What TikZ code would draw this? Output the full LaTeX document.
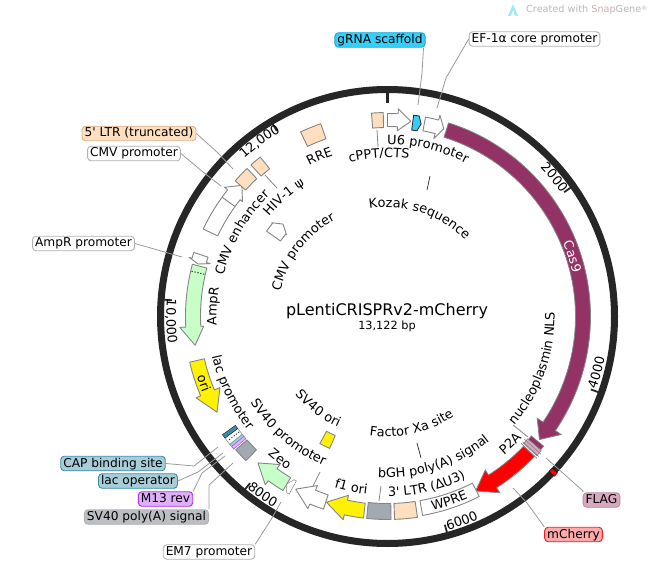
\documentclass[tikz,border=0pt]{standalone}
\usepackage{fontspec}
\setmainfont{DejaVu Sans}[Ligatures=TeXOff]
\usetikzlibrary{decorations.text}
\definecolor{ringc}{HTML}{262626}
\definecolor{stroke}{HTML}{858585}
\definecolor{conn}{HTML}{9A9A9A}
\definecolor{cascol}{HTML}{933365}
\definecolor{peach}{HTML}{FFDFBF}
\definecolor{peachd}{HTML}{D9B08C}
\definecolor{lgreen}{HTML}{C8FFC8}
\definecolor{greyf}{HTML}{A3A9B1}
\definecolor{cyanf}{HTML}{35CFF7}
\definecolor{cyand}{HTML}{18A8D8}
\definecolor{capf}{HTML}{A8CDD9}
\definecolor{capd}{HTML}{3A8CA8}
\definecolor{m13f}{HTML}{DDB0F8}
\definecolor{m13d}{HTML}{B030F0}
\definecolor{flagf}{HTML}{D8A8C0}
\definecolor{flagd}{HTML}{B88CA4}
\definecolor{cherf}{HTML}{FFAAAA}
\definecolor{cherd}{HTML}{F02020}
\definecolor{polyf}{HTML}{BBBFC4}
\newcommand{\pp}[2]{({387.5+(#2)*sin(#1)},{257.5+(#2)*cos(#1)})}
% t1 t2 ri ro style
\newcommand{\featsector}[5]{\draw[#5] \pp{#1}{#4} arc[start angle={90-(#1)},end angle={90-(#2)},radius=#4] -- \pp{#2}{#3} arc[start angle={90-(#2)},end angle={90-(#1)},radius=#3] -- cycle;}
% tail headbase tip ri ro wi wo style
\newcommand{\featarrow}[8]{\draw[#8] \pp{#1}{#5} arc[start angle={90-(#1)},end angle={90-(#2)},radius=#5] -- \pp{#2}{#7} -- \pp{#3}{(#4+#5)/2} -- \pp{#2}{#6} -- \pp{#2}{#4} arc[start angle={90-(#2)},end angle={90-(#1)},radius=#4] -- cycle;}
\newcommand{\lab}{\fontsize{12.2}{14}\selectfont}
\newcommand{\clab}{\fontsize{12.9}{14}\selectfont}
% [colour] text theta baseline-radius
\newcommand{\cwtext}[4][black]{\path[decorate,decoration={text along path,text color=#1,text={|\clab|#2},text align=center}] \pp{#3-70}{#4} arc[start angle={90-(#3)+70},end angle={90-(#3)-70},radius=#4];}
\newcommand{\ccwtext}[4][black]{\path[decorate,decoration={text along path,text color=#1,text={|\clab|#2},text align=center}] \pp{#3+70}{#4} arc[start angle={90-(#3)-70},end angle={90-(#3)+70},radius=#4];}
\tikzset{
  feat/.style={draw=stroke,line width=0.9pt,fill=white,line join=round},
  thinfeat/.style={draw=stroke,line width=0.5pt,fill=white},
  tag/.style={rounded corners=3.5pt,draw=#1,line width=0.9pt,inner sep=0pt,minimum height=14.5pt,text height=9.5pt,text depth=2.5pt,font=\lab,inner xsep=2.5pt},
  lead/.style={draw=conn,line width=0.8pt},
  dark/.style={draw=ringc,line width=0.7pt},
  ticks/.style={draw=ringc,line width=1.8pt}
}
\begin{document}
\begin{tikzpicture}[x=1pt,y=1pt]
\useasboundingbox (0,0) rectangle (653,574);
\fill[white] (0,0) rectangle (653,574);
% ring
\node[circle,draw=ringc,line width=7pt,minimum size=454pt,inner sep=0pt] (ring) at (387.5,257.5) {};
\featsector{132.6}{133.8}{224}{231}{fill=red}
% ticks
\draw[ticks,line width=3pt] \pp{0}{228} -- \pp{0}{213};
\foreach \t in {54.87,109.74,164.6,219.5,274.3,329.2}{\draw[ticks] \pp{\t}{226} -- \pp{\t}{216};}
% features
\featsector{355.5}{358.8}{189}{204}{feat,fill=peach}
\featarrow{0}{3}{6.8}{190}{203}{186}{208}{feat}
\featarrow{7.4}{9}{9.9}{188}{203}{188}{203}{draw=ringc,line width=0.8pt,fill=cyanf}
\featarrow{10.8}{14.6}{16.7}{189}{203}{184}{208}{feat}
\featarrow{17.5}{124.2}{129}{188}{203}{181}{210}{draw=stroke,line width=0.8pt,fill=cascol}
\featsector{129.7}{131.1}{187}{203}{draw=stroke,line width=0.6pt,fill=cascol}
\featsector{131.1}{133}{186}{204}{draw=stroke,line width=0.6pt,fill=flagf}
\foreach \t in {131.9,132.8,133.5}{\draw[draw=stroke,line width=0.6pt] \pp{\t}{184} -- \pp{\t}{206};}
\featarrow{133.6}{147.5}{153.2}{188}{203}{182}{209}{draw=stroke,line width=0.8pt,fill=red}
\featsector{153}{170}{187}{202}{feat}
\featsector{171.5}{178}{187}{203}{feat,fill=peach}
\featsector{179}{185.9}{187}{203}{feat,fill=greyf}
\featarrow{186.8}{192.3}{198.2}{188}{203}{183}{208}{feat,fill=yellow}
\featarrow{198.4}{202.5}{208}{188}{203}{183}{208}{feat}
\featarrow{209}{209.8}{211}{188}{203}{188}{203}{thinfeat}
\featarrow{211}{216}{221.5}{188}{203}{183}{208}{feat,fill=lgreen}
\featsector{224.5}{228.7}{187}{202}{feat,fill=greyf}
% lac cluster
\featsector{229.2}{230.2}{187}{203}{draw=m13d,line width=0.4pt,fill=m13f}
\featsector{230.2}{231}{187}{203}{draw=capd,line width=0.4pt,fill=capf}
\featsector{231}{233.2}{187}{203}{draw=stroke,line width=0.5pt,fill=white}
\draw[black,line width=0.9pt,dotted] \pp{232.1}{188} -- \pp{232.1}{202};
\featsector{233.2}{234.4}{187}{203}{draw=ringc,line width=0.4pt,fill=capd}
\featarrow{257}{247}{240.7}{188}{203}{182}{208}{feat,fill=yellow}
\featarrow{285}{267}{261.5}{187}{202}{184}{208}{feat,fill=lgreen}
\draw[black,line width=1pt,dotted] \pp{283}{188} -- \pp{283}{201};
\featarrow{288.3}{286.6}{285.5}{189}{204}{185}{207}{feat}
\featarrow{295.4}{308.4}{312}{188}{204}{185}{208}{feat}
\draw[draw=stroke,line width=0.9pt] \pp{305.8}{188} -- \pp{305.8}{204};
\featsector{311.7}{316.5}{190}{204}{feat,fill=peach}
\featsector{318}{321.4}{189}{204}{feat,fill=peach}
\featsector{334.8}{340.9}{188}{204}{feat,fill=peach}
\featsector{203.7}{208}{130}{144}{feat,fill=yellow}
\featarrow{305.2}{309}{311.5}{131}{148}{130}{149}{feat}
% curved labels
\cwtext{U6 promoter}{13.5}{172}
\cwtext{cPPT/CTS}{357}{159}
\cwtext{Kozak sequence}{18}{109}
\cwtext{RRE}{337}{170}
\cwtext{HIV-1 ψ}{319}{155}
\cwtext{CMV enhancer}{300}{169}
\cwtext{CMV promoter}{307.5}{110}
\cwtext{AmpR}{273.4}{171}
\cwtext{12,000}{323.8}{213}
\ccwtext{10,000}{268.7}{221}
\cwtext{2000}{50.2}{213}
\cwtext[white]{Cas9}{72}{190}
\ccwtext{4000}{105}{221}
\ccwtext{6000}{160}{222}
\ccwtext{8000}{215}{222}
\ccwtext{lac promoter}{244}{180}
\ccwtext{SV40 promoter}{220.5}{162}
\ccwtext{Zeo}{217}{183}
\ccwtext{f1 ori}{192}{179}
\ccwtext{3' LTR (ΔU3)}{167}{180}
\ccwtext{bGH poly(A) signal}{162}{161}
\ccwtext{Factor Xa site}{167.5}{120}
\ccwtext{SV40 ori}{217}{121}
\ccwtext{P2A}{136}{181}
\ccwtext{nucleoplasmin NLS}{109.5}{167}
\ccwtext{WPRE}{161.5}{199}
\ccwtext{ori}{250}{200}
% centre
\node[font=\fontsize{16}{18}\selectfont] (title) at (387,263) {pLentiCRISPRv2-mCherry};
\node[font=\fontsize{11.3}{13}\selectfont] (bp) at (387,248) {13,122 bp};
% tags
\node[tag=cyand,fill=cyanf] (tGRNA) at (380,534) {gRNA scaffold};
\node[tag=black!30,fill=white] (tEF) at (534.5,535) {EF-1α core promoter};
\node[tag=peachd,fill=peach] (tLTR) at (139,440.5) {5' LTR (truncated)};
\node[tag=black!30,fill=white] (tCMV) at (134,420.5) {CMV promoter};
\node[tag=black!30,fill=white] (tAMP) at (83.5,330.5) {AmpR promoter};
\node[tag=capd,fill=capf] (tCAP) at (113,110.5) {CAP binding site};
\node[tag=capd,fill=capf] (tLAC) at (138,93) {lac operator};
\node[tag=m13d,fill=m13f] (tM13) at (165.5,75) {M13 rev};
\node[tag=black!30,fill=polyf] (tPOLY) at (146.5,57) {SV40 poly(A) signal};
\node[tag=black!30,fill=white] (tEM7) at (209,22) {EM7 promoter};
\node[tag=flagd,fill=flagf] (tFLAG) at (601.5,74) {FLAG};
\node[tag=cherd,fill=cherf] (tCHER) at (573.5,39.5) {mCherry};
% leads
\coordinate (a1) at (422,501); \coordinate (a2) at (418,469);
\coordinate (b1) at (446,496); \coordinate (b2) at (437,466);
\coordinate (c1) at (218,421); \coordinate (c2) at (233,405);
\coordinate (d1) at (203,402); \coordinate (d2) at (221,388);
\coordinate (e2) at (182,317);
\coordinate (f1) at (194,108); \coordinate (f2) at (218,127);
\coordinate (g1) at (198,102); \coordinate (g2) at (223,121);
\coordinate (h1) at (202,101); \coordinate (h2) at (225,118);
\coordinate (i1) at (209,89); \coordinate (i2) at (233,111);
\coordinate (j1) at (272,56); \coordinate (j2) at (281,72);
\coordinate (k1) at (583,83); \coordinate (k2) at (546,116);
\coordinate (l1) at (527,71); \coordinate (l2) at (513,86);
\draw[lead] ([xshift=-2pt]tGRNA.south east) -- (a1) -- (a2);
\draw[lead] (tEF.west) -- (b1) -- (b2);
\draw[lead] (tLTR.east) -- (c1) -- (c2);
\draw[lead] (tCMV.east) -- (d1) -- (d2);
\draw[lead] (tAMP.east) -- (e2);
\draw[lead] (tCAP.east) -- (f1) -- (f2);
\draw[lead] (tLAC.east) -- (g1) -- (g2);
\draw[lead] (tM13.north east) -- (h1) -- (h2);
\draw[lead] (tPOLY.north east) -- (i1) -- (i2);
\draw[lead] (tEM7.north east) -- (j1) -- (j2);
\draw[lead] (tFLAG.north west) -- (k1) -- (k2);
\draw[lead] (tCHER.north west) -- (l1) -- (l2);
% short leads between features and labels
\coordinate (m1) at (377,444); \coordinate (m2) at (378,427); \draw[lead,draw=stroke] (m1) -- (m2);
\coordinate (n1) at (430,398); \coordinate (n2) at (427,384); \draw[dark] (n1) -- (n2);
\coordinate (o1) at (265,399); \coordinate (o2) at (277,386); \draw[lead,draw=stroke] (o1) -- (o2);
\coordinate (p1) at (417,131); \coordinate (p2) at (421,116); \draw[dark] (p1) -- (p2);
\coordinate (q1) at (381,88); \coordinate (q2) at (379,73); \draw[lead,draw=stroke] (q1) -- (q2);
\coordinate (r1) at (320,102); \coordinate (r2) at (313,88); \draw[lead,draw=stroke] (r1) -- (r2);
\coordinate (s1) at (513,149); \coordinate (s2) at (528,137); \draw[lead,draw=stroke] (s1) -- (s2);
% watermark
\fill[cyanf!45] (508,558) -- (513,570) -- (518,558) -- (515,558) -- (513,564) -- (511,558) -- cycle;
\node[anchor=west,inner sep=0pt,font=\fontsize{9.7}{12}\selectfont,text=black!28] (wm) at (526,564) {Created with \textcolor{red!35!black!30}{Snap}Gene\raisebox{2pt}{\fontsize{6}{7}\selectfont ®}};
\end{tikzpicture}
\end{document}
